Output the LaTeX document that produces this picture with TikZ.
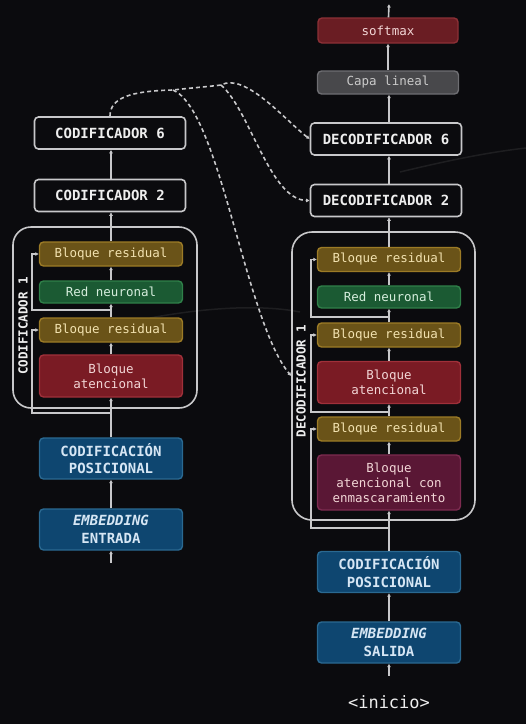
\documentclass[tikz,border=0pt]{standalone}
\usepackage{fontspec}
\setmonofont{DejaVu Sans Mono}[BoldFont={DejaVu Sans Mono Bold},ItalicFont={DejaVu Sans Mono Oblique},BoldItalicFont={DejaVu Sans Mono Bold Oblique}]
\usetikzlibrary{arrows.meta,positioning}

\definecolor{bg}{HTML}{0B0B0E}
\definecolor{wire}{HTML}{C8C8CA}
\definecolor{headtext}{HTML}{EEEEEE}
\definecolor{resfill}{HTML}{6A5318}
\definecolor{resdraw}{HTML}{9C7B26}
\definecolor{restext}{HTML}{F2E2B0}
\definecolor{nnfill}{HTML}{1B5A33}
\definecolor{nndraw}{HTML}{2F8049}
\definecolor{nntext}{HTML}{D6EEDD}
\definecolor{attfill}{HTML}{7A1B24}
\definecolor{attdraw}{HTML}{A0303A}
\definecolor{atttext}{HTML}{F2D6D6}
\definecolor{mskfill}{HTML}{5A1735}
\definecolor{mskdraw}{HTML}{7D2B50}
\definecolor{posfill}{HTML}{0E4670}
\definecolor{posdraw}{HTML}{2A6991}
\definecolor{postext}{HTML}{D6E6F4}
\definecolor{smfill}{HTML}{6A1D23}
\definecolor{smdraw}{HTML}{8C3036}
\definecolor{linfill}{HTML}{48484B}
\definecolor{lindraw}{HTML}{6E6E72}

\tikzstyle{every node}=[inner sep=0pt,align=center]
\tikzstyle{layer}=[rounded corners=4pt,line width=1.4pt,minimum width=143pt,font=\ttfamily\fontsize{12.5}{15}\selectfont]
\tikzstyle{stack}=[draw=wire,fill=bg,rounded corners=4pt,line width=1.6pt,minimum width=151pt,minimum height=32pt,text=headtext,font=\ttfamily\bfseries\fontsize{14}{17}\selectfont]
\tikzstyle{resid}=[layer,fill=resfill,draw=resdraw,text=restext,minimum height=24pt]
\tikzstyle{neural}=[layer,fill=nnfill,draw=nndraw,text=nntext,minimum height=22pt]
\tikzstyle{atten}=[layer,fill=attfill,draw=attdraw,text=atttext,minimum height=42pt]
\tikzstyle{masked}=[layer,fill=mskfill,draw=mskdraw,text=atttext,minimum height=55pt]
\tikzstyle{posenc}=[layer,fill=posfill,draw=posdraw,text=postext,minimum height=41pt,font=\ttfamily\bfseries\fontsize{14}{17.5}\selectfont]
\tikzstyle{smax}=[layer,fill=smfill,draw=smdraw,text=atttext,minimum width=140pt,minimum height=25pt]
\tikzstyle{lin}=[layer,fill=linfill,draw=lindraw,text=headtext!85!black,minimum width=141pt,minimum height=23pt]
\tikzstyle{frame}=[draw=wire,line width=1.6pt,rounded corners=18pt]
\tikzstyle{tag}=[rotate=90,text=headtext,font=\ttfamily\bfseries\fontsize{12.5}{15}\selectfont]
\tikzstyle{link}=[draw=wire,line width=1.6pt,-{Latex[length=3.5pt,width=4pt]}]
\tikzstyle{cross}=[link,dash pattern=on 4pt off 3pt]

\begin{document}
\begin{tikzpicture}[x=1pt,y=-1pt]
\fill[bg] (0,0) rectangle (526,724);
\useasboundingbox (0,0) rectangle (526,724);
\draw[white,opacity=.08,line width=1.5pt] (150,318) .. controls (220,305) and (270,306) .. (300,312);
\draw[white,opacity=.08,line width=1.5pt] (400,172) .. controls (450,160) and (490,152) .. (526,148);

% encoder
\node[frame,minimum width=184pt,minimum height=181pt] (cod1) at (105,317.5) {};
\node[tag] (cod1lbl) at (23,326) {CODIFICADOR 1};
\node[stack] (cod6) at (110,133) {CODIFICADOR 6};
\node[stack] (cod2) at (110,195.5) {CODIFICADOR 2};
\node[resid] (cres1) at (111,254) {Bloque residual};
\node[neural] (cred) at (111,292) {Red neuronal};
\node[resid] (cres2) at (111,330) {Bloque residual};
\node[atten] (catt) at (111,376) {Bloque\\atencional};
\node[posenc] (cpos) at (111,458.5) {CODIFICACIÓN\\POSICIONAL};
\node[posenc] (cemb) at (111,529.5) {\textit{EMBEDDING}\\ENTRADA};
\coordinate (cin) at (111,563);
\coordinate (cj1) at (111,310);
\coordinate (cj2) at (111,413);

% decoder
\node[frame,minimum width=183pt,minimum height=288pt,rounded corners=20pt] (dec1) at (383.5,376) {};
\node[tag] (dec1lbl) at (301,381) {DECODIFICADOR 1};
\node[smax] (soft) at (388,30.5) {softmax};
\node[lin] (lin) at (388,82.5) {Capa lineal};
\node[stack] (dec6) at (386,139) {DECODIFICADOR 6};
\node[stack] (dec2) at (386,200.5) {DECODIFICADOR 2};
\node[resid] (dres1) at (389,259.5) {Bloque residual};
\node[neural] (dred) at (389,297) {Red neuronal};
\node[resid] (dres2) at (389,335) {Bloque residual};
\node[atten] (datt) at (389,382.5) {Bloque\\atencional};
\node[resid] (dres3) at (389,429) {Bloque residual};
\node[masked] (dmask) at (389,482.5) {Bloque\\atencional con\\enmascaramiento};
\node[posenc] (dpos) at (389,572) {CODIFICACIÓN\\POSICIONAL};
\node[posenc] (demb) at (389,642.5) {\textit{EMBEDDING}\\SALIDA};
\node[text=headtext,font=\ttfamily\fontsize{17}{20}\selectfont] (start) at (389,702) {<inicio>};
\coordinate (din) at (389,676);
\coordinate (dout) at (389,4);
\coordinate (dj1) at (389,317);
\coordinate (dj2) at (389,412);
\coordinate (dj3) at (389,528);

% encoder links
\draw[link] (cin) -- (cemb);
\draw[link] (cemb) -- (cpos);
\draw[link] (cpos) -- (catt);
\draw[link] (catt) -- (cres2);
\draw[link] (cres2) -- (cred);
\draw[link] (cred) -- (cres1);
\draw[link] (cres1) -- (cres1.north |- cod2.south);
\draw[link] (cod2.north -| cres1.north) -- (cres1.north |- cod6.south);
\draw[link] (cj1) -| ([xshift=-7pt]cres1.west) -- (cres1.west);
\draw[link] (cj2) -| ([xshift=-7pt]cres2.west) -- (cres2.west);

% decoder links
\draw[link] (din) -- (demb);
\draw[link] (demb) -- (dpos);
\draw[link] (dpos) -- (dmask);
\draw[link] (dmask) -- (dres3);
\draw[link] (dres3) -- (datt);
\draw[link] (datt) -- (dres2);
\draw[link] (dres2) -- (dred);
\draw[link] (dred) -- (dres1);
\draw[link] (dres1) -- (dres1.north |- dec2.south);
\draw[link] (dec2.north -| dres1.north) -- (dres1.north |- dec6.south);
\draw[link] (dec6.north -| dres1.north) -- (dres1.north |- lin.south);
\draw[link] (lin) -- (soft);
\draw[link] (soft) -- (dout);
\draw[link] (dj1) -| ([xshift=-6pt]dres1.west) -- (dres1.west);
\draw[link] (dj2) -| ([xshift=-6pt]dres2.west) -- (dres2.west);
\draw[link] (dj3) -| ([xshift=-6pt]dres3.west) -- (dres3.west);

% encoder output to decoders
\coordinate (fork1) at (173,90);
\coordinate (fork2) at (221,85);
\draw[cross] (cod6.north) .. controls (110,98) and (130,91) .. (fork1)
  .. controls (190,88) and (205,87) .. (fork2)
  .. controls (245,72) and (285,120) .. (dec6.west);
\draw[cross] (fork1) .. controls (220,110) and (245,320) .. (dec1.west);
\draw[cross] (fork2) .. controls (250,110) and (270,200) .. (dec2.west);
\end{tikzpicture}
\end{document}
